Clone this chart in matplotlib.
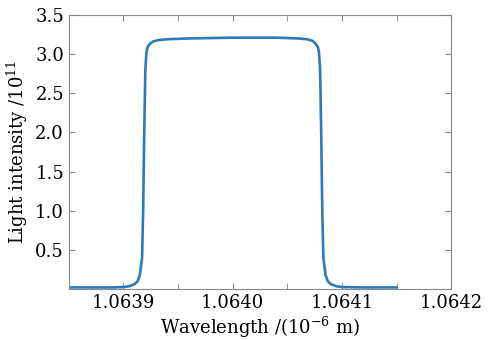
import matplotlib
matplotlib.use("Agg")
import matplotlib.pyplot as plt
from matplotlib.ticker import MultipleLocator

plt.rcParams['font.family'] = 'DejaVu Serif'
plt.rcParams['mathtext.fontset'] = 'dejavuserif'

wavelength = [1.06385, 1.06387, 1.06389, 1.063900, 1.063905, 1.063910, 1.063913,
              1.063915, 1.063917, 1.063918, 1.063919, 1.063920, 1.063921, 1.063922,
              1.063924, 1.063927, 1.063932, 1.06394, 1.06396, 1.06400, 1.06404,
              1.06406, 1.064068, 1.064073, 1.064076, 1.064078, 1.064079, 1.064080,
              1.064081, 1.064082, 1.064083, 1.064085, 1.064087, 1.064090, 1.064095,
              1.06410, 1.06412, 1.06415]
intensity = [0.02, 0.02, 0.02, 0.025, 0.035, 0.06, 0.10,
             0.18, 0.40, 1.00, 2.00, 2.80, 3.02, 3.09,
             3.13, 3.16, 3.18, 3.19, 3.20, 3.21, 3.21,
             3.20, 3.19, 3.17, 3.13, 3.09, 3.02, 2.80,
             2.00, 1.00, 0.40, 0.18, 0.10, 0.06, 0.035,
             0.025, 0.02, 0.02]
xticks = [1.0639, 1.0640, 1.0641, 1.0642]
yticks = [0.5, 1.0, 1.5, 2.0, 2.5, 3.0, 3.5]

fig = plt.figure(figsize=(4.92, 3.40), dpi=100)
ax = fig.add_axes([0.140, 0.150, 0.777, 0.806])
ax.plot(wavelength, intensity, color='#2b7bba', lw=1.9)
ax.set_xlim(1.06385, 1.0642)
ax.set_ylim(0, 3.5)
ax.set_xticks(xticks)
ax.set_xticklabels([f"{v:.4f}" for v in xticks])
ax.xaxis.set_minor_locator(MultipleLocator(0.00005))
ax.set_yticks(yticks)
ax.set_yticklabels([f"{v:.1f}" for v in yticks])
ax.tick_params(which='both', direction='in', top=True, right=True, color='#888888',
               labelsize=13, length=4)
for s in ax.spines.values():
    s.set_color('#888888')
    s.set_linewidth(0.8)
ax.set_xlabel('Wavelength /(10$^{-6}$ m)', fontsize=13, labelpad=2)
ax.set_ylabel('Light intensity /10$^{11}$', fontsize=13, labelpad=4)
fig.savefig('out.png', dpi=100)
